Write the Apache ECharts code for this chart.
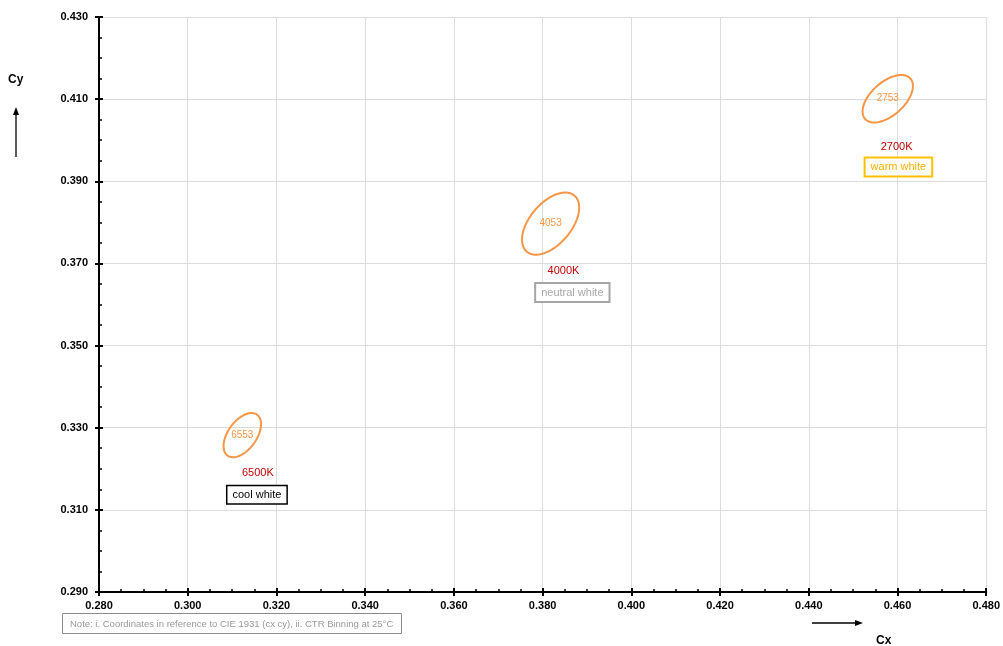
<!DOCTYPE html>
<html>
<head>
<meta charset="utf-8">
<script src="https://cdn.jsdelivr.net/npm/echarts@6/dist/echarts.min.js"></script>
<style>html,body{margin:0;padding:0;background:#fff;}#chart{width:1003px;height:646px;}</style>
</head>
<body>
<div id="chart"></div>
<script>
// ---- data ----
const binCodes   = ['6553', '4053', '2753'];
const cctNames   = ['6500K', '4000K', '2700K'];
const whiteNames = ['cool white', 'neutral white', 'warm white'];
// ellipse centres (CIE 1931 cx, cy), semi-axes and tilt (degrees)
const ellipseCx   = [0.3123, 0.3818, 0.4578];
const ellipseCy   = [0.3282, 0.3797, 0.4101];
const ellipseA    = [0.00600, 0.00870, 0.00710];
const ellipseB    = [0.00330, 0.00480, 0.00390];
const ellipseTilt = [58.2, 53.7, 46.0];
// annotation anchors (data units)
const cctLabelCx = [0.3158, 0.3847, 0.4598];
const cctLabelCy = [0.3190, 0.3682, 0.3983];
const boxCx      = [0.3156, 0.3867, 0.4602];
const boxCy      = [0.3137, 0.3629, 0.3935];
// axis ticks
const xMin = 0.28, xMax = 0.48, xStep = 0.02;
const yMin = 0.29, yMax = 0.43, yStep = 0.02;

// ---- styles ----
const ORANGE = '#F79646';
const boxStyles = [
  {border: '#000000', text: '#000000', width: 1.5},
  {border: '#A6A6A6', text: '#A6A6A6', width: 2},
  {border: '#FFC000', text: '#F2B300', width: 2}
];
const FONT = 'Liberation Sans, Arial, sans-serif';

const chart = echarts.init(document.getElementById('chart'));

const seriesData = binCodes.map((c, i) => [ellipseCx[i], ellipseCy[i], ellipseA[i], ellipseB[i], ellipseTilt[i],
  cctLabelCx[i], cctLabelCy[i], boxCx[i], boxCy[i]]);

function renderItem(params, api) {
  const i = params.dataIndex;
  const cx = api.value(0), cy = api.value(1), a = api.value(2), b = api.value(3);
  const th = api.value(4) * Math.PI / 180;
  const pts = [];
  const N = 90;
  for (let k = 0; k < N; k++) {
    const t = 2 * Math.PI * k / N;
    const x = cx + a * Math.cos(t) * Math.cos(th) - b * Math.sin(t) * Math.sin(th);
    const y = cy + a * Math.cos(t) * Math.sin(th) + b * Math.sin(t) * Math.cos(th);
    pts.push(api.coord([x, y]));
  }
  const c = api.coord([cx, cy]);
  const lp = api.coord([api.value(5), api.value(6)]);
  const bp = api.coord([api.value(7), api.value(8)]);
  const bs = boxStyles[i];
  return {
    type: 'group',
    children: [
      {type: 'polygon', shape: {points: pts, smooth: 0}, style: {fill: 'none', stroke: ORANGE, lineWidth: 2}},
      {type: 'text', x: c[0], y: c[1], style: {text: binCodes[i], align: 'center', verticalAlign: 'middle',
        fill: ORANGE, font: '10px ' + FONT}},
      {type: 'text', x: lp[0], y: lp[1], style: {text: cctNames[i], align: 'center', verticalAlign: 'middle',
        fill: '#C00000', font: '11px ' + FONT}},
      {type: 'text', x: bp[0], y: bp[1], style: {text: whiteNames[i], align: 'center', verticalAlign: 'middle',
        fill: bs.text, font: '11px ' + FONT, backgroundColor: '#fff', borderColor: bs.border,
        borderWidth: bs.width, padding: [3, 5]}}
    ]
  };
}

const labelCommon = {fontWeight: 'bold', fontSize: 11, color: '#000', fontFamily: FONT};

chart.setOption({
  animation: false,
  grid: {left: 99, right: 14, top: 17, bottom: 54},
  xAxis: [
    {type: 'value', min: xMin, max: xMax, interval: xStep, position: 'bottom',
      axisLine: {show: true, onZero: false, lineStyle: {color: '#000', width: 2}},
      axisTick: {show: true, inside: false, length: 4, lineStyle: {color: '#000', width: 2}},
      axisLabel: Object.assign({margin: 8, formatter: v => v.toFixed(3)}, labelCommon),
      splitLine: {show: true, lineStyle: {color: '#DCDCDC', width: 1}}},
    {type: 'value', min: xMin, max: xMax, interval: xStep, position: 'bottom', offset: 0,
      axisLine: {show: false, onZero: false},
      axisTick: {show: true, inside: true, length: 4, lineStyle: {color: '#000', width: 2}},
      minorTick: {show: true, splitNumber: 4, length: 3, lineStyle: {color: '#000', width: 1.5}},
      axisLabel: {show: false}, splitLine: {show: false}}
  ],
  yAxis: [
    {type: 'value', min: yMin, max: yMax, interval: yStep, position: 'left',
      axisLine: {show: true, onZero: false, lineStyle: {color: '#000', width: 2}},
      axisTick: {show: true, inside: false, length: 4, lineStyle: {color: '#000', width: 2}},
      axisLabel: Object.assign({margin: 11, formatter: v => v.toFixed(3)}, labelCommon),
      splitLine: {show: true, lineStyle: {color: '#DCDCDC', width: 1}}},
    {type: 'value', min: yMin, max: yMax, interval: yStep, position: 'left', offset: 0,
      axisLine: {show: false, onZero: false},
      axisTick: {show: true, inside: true, length: 4, lineStyle: {color: '#000', width: 2}},
      minorTick: {show: true, splitNumber: 4, length: 3, lineStyle: {color: '#000', width: 1.5}},
      axisLabel: {show: false}, splitLine: {show: false}}
  ],
  series: [{
    type: 'custom', xAxisIndex: 0, yAxisIndex: 0,
    renderItem: renderItem,
    data: seriesData,
    encode: {x: 0, y: 1},
    clip: false
  }],
  graphic: [
    {type: 'text', left: 8, top: 74, style: {text: 'Cy', font: 'bold 12px ' + FONT, fill: '#000'}},
    {type: 'line', shape: {x1: 16, y1: 157, x2: 16, y2: 113}, style: {stroke: '#000', lineWidth: 1.3}},
    {type: 'polygon', shape: {points: [[16, 107], [13, 115], [19, 115]]}, style: {fill: '#000'}},
    {type: 'line', shape: {x1: 812, y1: 623, x2: 857, y2: 623}, style: {stroke: '#000', lineWidth: 1.3}},
    {type: 'polygon', shape: {points: [[863, 623], [855, 620], [855, 626]]}, style: {fill: '#000'}},
    {type: 'text', left: 876, top: 635, style: {text: 'Cx', font: 'bold 12px ' + FONT, fill: '#000'}},
    {type: 'rect', shape: {x: 62.5, y: 613.5, width: 339, height: 20}, style: {fill: '#fff', stroke: '#8C8C8C', lineWidth: 1}},
    {type: 'text', x: 70, y: 624, style: {text: 'Note: i. Coordinates in reference to CIE 1931 (cx cy), ii. CTR Binning at 25°C',
      font: '9.5px ' + FONT, fill: '#999', verticalAlign: 'middle'}}
  ]
});
</script>
</body>
</html>
